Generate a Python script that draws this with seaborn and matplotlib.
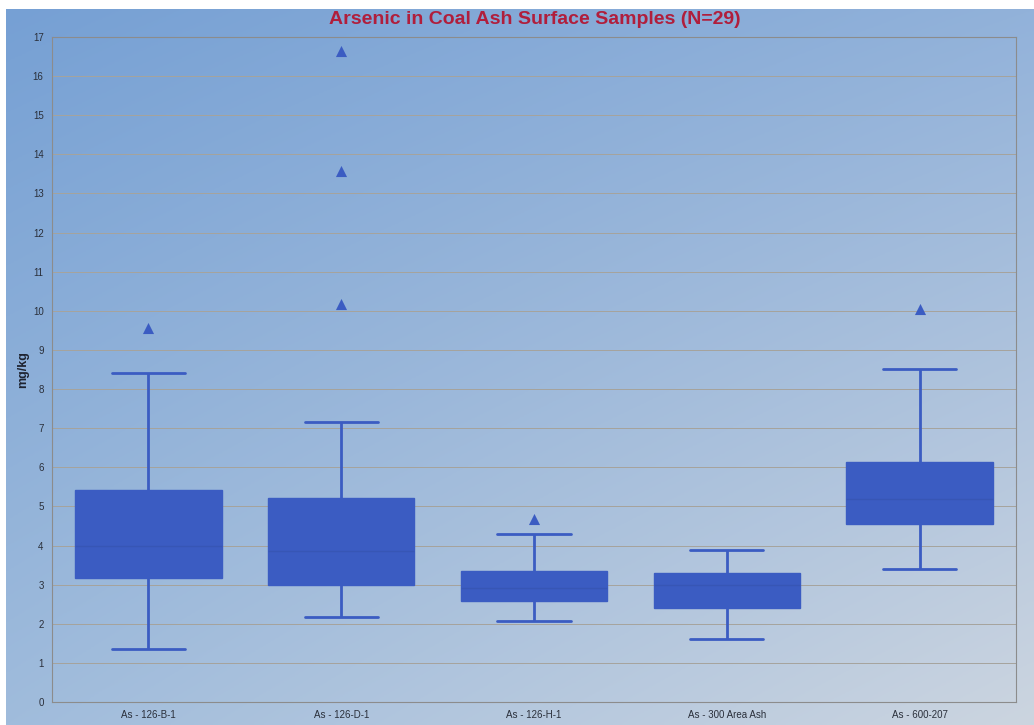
import numpy as np
import pandas as pd
import matplotlib
matplotlib.use("Agg")
import matplotlib.pyplot as plt
import seaborn as sns

# Sampling units and their box-plot summaries (mg/kg)
categories = ["As - 126-B-1", "As - 126-D-1", "As - 126-H-1", "As - 300 Area Ash", "As - 600-207"]
whisker_low = [1.36, 2.18, 2.08, 1.62, 3.39]
quartile_1 = [3.18, 2.99, 2.59, 2.41, 4.56]
median = [4.00, 3.87, 2.92, 3.00, 5.18]
quartile_3 = [5.42, 5.22, 3.35, 3.31, 6.14]
whisker_high = [8.41, 7.15, 4.30, 3.88, 8.52]

# Values beyond the whiskers
outlier_groups = ["As - 126-B-1", "As - 126-D-1", "As - 126-D-1", "As - 126-D-1", "As - 126-H-1", "As - 600-207"]
outlier_values = [9.57, 10.18, 13.58, 16.65, 4.69, 10.05]

title = "Arsenic in Coal Ash Surface Samples (N=29)"
y_label = "mg/kg"
y_ticks = list(range(0, 18))

BOX = "#3b5cc2"
GRID = "#a6a39c"
FRAME = "#8c8c8c"

sns.set_theme(style="white")
plt.rcParams["font.family"] = ["Liberation Sans", "DejaVu Sans"]

# Five-number rows per group; with whis=(0, 100) the box edges land on these values
summary = pd.DataFrame({
    "group": np.repeat(categories, 5),
    "value": np.column_stack([whisker_low, quartile_1, median, quartile_3, whisker_high]).ravel(),
})
outliers = pd.DataFrame({"group": outlier_groups, "value": outlier_values})

fig = plt.figure(figsize=(10.34, 7.25), dpi=100)
fig.patch.set_facecolor("white")

# Blue gradient backdrop, darker top-left to pale bottom-right
bg = fig.add_axes([6 / 1034, 0, 1 - 6 / 1034, 1 - 9 / 725], zorder=-10)
tl = np.array([118, 160, 212]) / 255
tr = np.array([146, 178, 218]) / 255
bl = np.array([160, 188, 220]) / 255
br = np.array([204, 213, 224]) / 255
u = np.linspace(0, 1, 256)[None, :, None]
v = np.linspace(0, 1, 256)[:, None, None]
grad = (1 - v) * ((1 - u) * tl + u * tr) + v * ((1 - u) * bl + u * br)
bg.imshow(grad, aspect="auto", extent=[0, 1, 0, 1], origin="upper")
bg.set_axis_off()

ax = fig.add_axes([52 / 1034, 1 - 702 / 725, (1016 - 52) / 1034, (702 - 37) / 725])
ax.set_facecolor("none")

sns.boxplot(
    data=summary, x="group", y="value", order=categories, ax=ax,
    whis=(0, 100), width=0.76, showfliers=False,
    color=BOX, saturation=1, linecolor=BOX, linewidth=2,
    boxprops=dict(facecolor=BOX, edgecolor=BOX, linewidth=1),
    medianprops=dict(color="#2f4a9a", linewidth=1, alpha=0.3),
    whiskerprops=dict(color=BOX, linewidth=2),
    capprops=dict(color=BOX, linewidth=2),
)
sns.stripplot(
    data=outliers, x="group", y="value", order=categories, ax=ax,
    jitter=False, marker="^", size=8, color=BOX, linewidth=0,
)

ax.set_ylim(0, 17)
ax.set_yticks(y_ticks)
ax.set_xlim(-0.5, len(categories) - 0.5)
ax.yaxis.grid(True, color=GRID, linewidth=0.7)
ax.set_axisbelow(True)
ax.tick_params(axis="both", length=0, labelsize=7, colors="#2a2f3a", pad=6)
ax.set_xlabel("")
ax.set_ylabel(y_label, fontsize=9, fontweight="bold", color="#1e2330", labelpad=3)
for side in ["left", "right", "top", "bottom"]:
    ax.spines[side].set_visible(True)
    ax.spines[side].set_color(FRAME)
    ax.spines[side].set_linewidth(0.8)

fig.text(535 / 1034, 1 - 20 / 725, title, ha="center", va="center",
         fontsize=14, fontweight="bold", color="#b01e3c")

fig.savefig("out.png", dpi=100)
